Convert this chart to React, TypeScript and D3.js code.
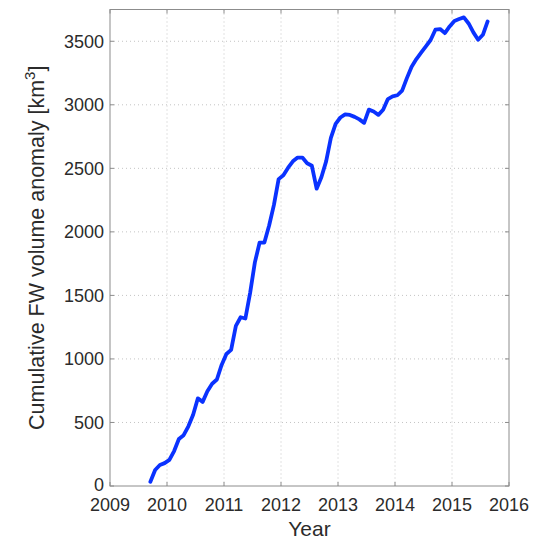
import React from "react";
import * as d3 from "d3";

// Monthly cumulative freshwater volume anomaly, Sep 2009 – Aug 2015 (km³)
const startYear = 2009;
const startMonth = 9; // September
const fwVolume = [
  34, 126, 165, 180, 205, 275, 370, 400, 470, 560, 690, 662,
  745, 805, 838, 953, 1039, 1071, 1260, 1328, 1318, 1520, 1760, 1916,
  1916, 2050, 2210, 2415, 2445, 2505, 2555, 2585, 2585, 2540, 2520, 2340,
  2430, 2555, 2740, 2850, 2900, 2925, 2920, 2905, 2885, 2858, 2962, 2947,
  2921, 2961, 3045, 3066, 3075, 3112, 3210, 3300, 3360, 3410, 3460, 3510,
  3591, 3596, 3564, 3617, 3660, 3675, 3688, 3640, 3570, 3512, 3551, 3656,
];
const xTicks = [2009, 2010, 2011, 2012, 2013, 2014, 2015, 2016];
const yTicks = [0, 500, 1000, 1500, 2000, 2500, 3000, 3500];
const xDomain = [2009, 2016];
const yDomain = [0, 3750];

const W = 533;
const H = 539;
const M = { left: 110, right: 24, top: 9.5, bottom: 53 };

export default function App() {
  const innerW = W - M.left - M.right;
  const innerH = H - M.top - M.bottom;
  const x = d3.scaleLinear().domain(xDomain).range([0, innerW]);
  const y = d3.scaleLinear().domain(yDomain).range([innerH, 0]);

  const points = fwVolume.map((v, i) => ({
    t: startYear + (startMonth - 1 + i + 0.5) / 12,
    v,
  }));
  const line = d3
    .line<{ t: number; v: number }>()
    .x((d) => x(d.t))
    .y((d) => y(d.v));

  const axisColor = "#8c8c8c";
  const textColor = "#2b2b2b";
  const gridColor = "#c4c4c4";
  const tickLen = 4;
  const font = "'Liberation Sans', Arial, Helvetica, sans-serif";

  return (
    <div style={{ position: "absolute", left: 0, top: 0 }}>
      <svg width={W} height={H} style={{ display: "block", background: "#fff" }}>
        <g transform={`translate(${M.left},${M.top})`}>
          {/* dotted grid */}
          {xTicks.slice(1, -1).map((t) => (
            <line key={`gx${t}`} x1={x(t)} x2={x(t)} y1={0} y2={innerH}
              stroke={gridColor} strokeWidth={1} strokeDasharray="1,3" />
          ))}
          {yTicks.slice(1).map((t) => (
            <line key={`gy${t}`} x1={0} x2={innerW} y1={y(t)} y2={y(t)}
              stroke={gridColor} strokeWidth={1} strokeDasharray="1,3" />
          ))}

          {/* data */}
          <path d={line(points) ?? ""} fill="none" stroke="#0a32ff"
            strokeWidth={3.8} strokeLinejoin="round" strokeLinecap="round" />

          {/* frame */}
          <rect x={0} y={0} width={innerW} height={innerH} fill="none"
            stroke={axisColor} strokeWidth={1} />

          {/* ticks on all four sides, pointing inward */}
          {xTicks.map((t) => (
            <g key={`tx${t}`}>
              <line x1={x(t)} x2={x(t)} y1={innerH} y2={innerH - tickLen} stroke={axisColor} />
              <line x1={x(t)} x2={x(t)} y1={0} y2={tickLen} stroke={axisColor} />
              <text x={x(t)} y={innerH + 24.5} textAnchor="middle" fontFamily={font}
                fontSize={18} fill={textColor}>{t}</text>
            </g>
          ))}
          {yTicks.map((t) => (
            <g key={`ty${t}`}>
              <line x1={0} x2={tickLen} y1={y(t)} y2={y(t)} stroke={axisColor} />
              <line x1={innerW} x2={innerW - tickLen} y1={y(t)} y2={y(t)} stroke={axisColor} />
              <text x={-6} y={t === 0 ? y(t) - 1 : y(t)} dy="0.35em" textAnchor="end"
                fontFamily={font} fontSize={18} fill={textColor}>{t}</text>
            </g>
          ))}

          {/* axis titles */}
          <text x={innerW / 2} y={innerH + 49.5} textAnchor="middle" fontFamily={font}
            fontSize={21} fill={textColor}>Year</text>
          <text transform={`translate(${-66},${innerH / 2}) rotate(-90)`}
            textAnchor="middle" fontFamily={font} fontSize={21.5} fill={textColor}>
            Cumulative FW volume anomaly [km
            <tspan dy={-9} fontSize={15}>3</tspan>
            <tspan dy={9}>]</tspan>
          </text>
        </g>
      </svg>
    </div>
  );
}
